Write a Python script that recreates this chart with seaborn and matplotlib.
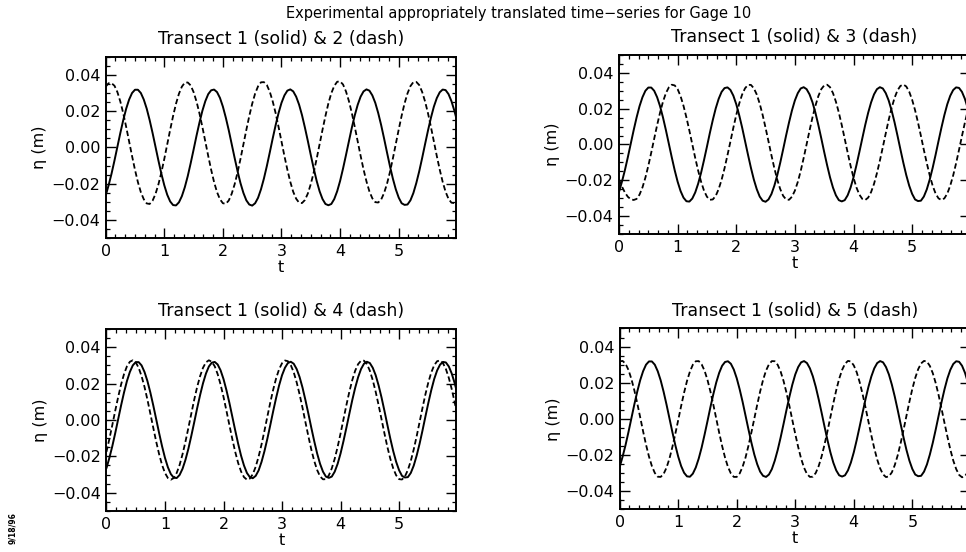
import numpy as np
import pandas as pd
import seaborn as sns
import matplotlib
matplotlib.use("Agg")
import matplotlib.pyplot as plt
from matplotlib.ticker import MultipleLocator, FuncFormatter

# ---------------- data ----------------
t = [0.00, 0.05, 0.10, 0.15, 0.20, 0.25, 0.30, 0.35, 0.40, 0.45,
     0.50, 0.55, 0.60, 0.65, 0.70, 0.75, 0.80, 0.85, 0.90, 0.95,
     1.00, 1.05, 1.10, 1.15, 1.20, 1.25, 1.30, 1.35, 1.40, 1.45,
     1.50, 1.55, 1.60, 1.65, 1.70, 1.75, 1.80, 1.85, 1.90, 1.95,
     2.00, 2.05, 2.10, 2.15, 2.20, 2.25, 2.30, 2.35, 2.40, 2.45,
     2.50, 2.55, 2.60, 2.65, 2.70, 2.75, 2.80, 2.85, 2.90, 2.95,
     3.00, 3.05, 3.10, 3.15, 3.20, 3.25, 3.30, 3.35, 3.40, 3.45,
     3.50, 3.55, 3.60, 3.65, 3.70, 3.75, 3.80, 3.85, 3.90, 3.95,
     4.00, 4.05, 4.10, 4.15, 4.20, 4.25, 4.30, 4.35, 4.40, 4.45,
     4.50, 4.55, 4.60, 4.65, 4.70, 4.75, 4.80, 4.85, 4.90, 4.95,
     5.00, 5.05, 5.10, 5.15, 5.20, 5.25, 5.30, 5.35, 5.40, 5.45,
     5.50, 5.55, 5.60, 5.65, 5.70, 5.75, 5.80, 5.85, 5.90, 5.95,
     5.98]

transect1 = [-0.0265, -0.0208, -0.0144, -0.0072, 0.0004, 0.0080, 0.0151, 0.0214, 0.0264, 0.0300,
             0.0318, 0.0318, 0.0300, 0.0264, 0.0214, 0.0151, 0.0080, 0.0004, -0.0072, -0.0144,
             -0.0208, -0.0260, -0.0297, -0.0317, -0.0319, -0.0302, -0.0268, -0.0219, -0.0158, -0.0087,
             -0.0012, 0.0065, 0.0137, 0.0202, 0.0255, 0.0294, 0.0315, 0.0319, 0.0305, 0.0273,
             0.0225, 0.0164, 0.0095, 0.0019, -0.0057, -0.0130, -0.0196, -0.0250, -0.0291, -0.0314,
             -0.0320, -0.0307, -0.0277, -0.0230, -0.0171, -0.0102, -0.0027, 0.0050, 0.0123, 0.0190,
             0.0246, 0.0287, 0.0313, 0.0320, 0.0309, 0.0280, 0.0236, 0.0178, 0.0109, 0.0035,
             -0.0042, -0.0116, -0.0184, -0.0241, -0.0284, -0.0311, -0.0318, -0.0311, -0.0284, -0.0241,
             -0.0184, -0.0116, -0.0042, 0.0034, 0.0109, 0.0177, 0.0235, 0.0280, 0.0309, 0.0320,
             0.0313, 0.0287, 0.0246, 0.0190, 0.0124, 0.0050, -0.0027, -0.0102, -0.0171, -0.0230,
             -0.0276, -0.0307, -0.0316, -0.0314, -0.0291, -0.0251, -0.0196, -0.0131, -0.0058, 0.0019,
             0.0094, 0.0164, 0.0225, 0.0272, 0.0304, 0.0319, 0.0316, 0.0294, 0.0255, 0.0202,
             0.0165]

transect2 = [0.0335, 0.0354, 0.0354, 0.0340, 0.0305, 0.0253, 0.0188, 0.0113, 0.0033, -0.0047,
             -0.0123, -0.0191, -0.0246, -0.0285, -0.0308, -0.0311, -0.0293, -0.0256, -0.0203, -0.0138,
             -0.0063, 0.0017, 0.0097, 0.0173, 0.0241, 0.0296,
             0.0335, 0.0357, 0.0358, 0.0342, 0.0305, 0.0253, 0.0188, 0.0113, 0.0033, -0.0047,
             -0.0123, -0.0191, -0.0246, -0.0285, -0.0307, -0.0310, -0.0292, -0.0255, -0.0203, -0.0138,
             -0.0063, 0.0017, 0.0097, 0.0173, 0.0241, 0.0297,
             0.0337, 0.0359, 0.0360, 0.0344, 0.0307, 0.0254, 0.0189, 0.0113, 0.0033, -0.0047,
             -0.0122, -0.0189, -0.0244, -0.0282, -0.0304, -0.0306, -0.0289, -0.0253, -0.0201, -0.0137,
             -0.0062, 0.0018, 0.0098, 0.0174, 0.0243, 0.0299,
             0.0339, 0.0362, 0.0364, 0.0347, 0.0309, 0.0256, 0.0190, 0.0114, 0.0034, -0.0046,
             -0.0121, -0.0187, -0.0242, -0.0280, -0.0301, -0.0303, -0.0287, -0.0251, -0.0200, -0.0136,
             -0.0061, 0.0019, 0.0099, 0.0175, 0.0243, 0.0298,
             0.0338, 0.0360, 0.0361, 0.0344, 0.0306, 0.0253, 0.0188, 0.0113, 0.0033, -0.0047,
             -0.0122, -0.0189, -0.0244, -0.0283, -0.0304, -0.0306,
             -0.0302]

transect3 = [-0.0195, -0.0235, -0.0268, -0.0292, -0.0306, -0.0310, -0.0304, -0.0280, -0.0240, -0.0185,
             -0.0119, -0.0045, 0.0032, 0.0108, 0.0178, 0.0239, 0.0287, 0.0319, 0.0334, 0.0330,
             0.0309, 0.0270, 0.0216, 0.0151, 0.0078, 0.0001, -0.0075, -0.0146, -0.0208, -0.0258,
             -0.0292, -0.0309, -0.0307, -0.0287, -0.0249, -0.0197, -0.0133, -0.0060, 0.0016, 0.0093,
             0.0165, 0.0228, 0.0279, 0.0314, 0.0333, 0.0333, 0.0314, 0.0279, 0.0228, 0.0165,
             0.0093, 0.0017, -0.0060, -0.0133, -0.0197, -0.0249, -0.0287, -0.0307, -0.0309, -0.0292,
             -0.0258, -0.0209, -0.0147, -0.0075, 0.0001, 0.0078, 0.0151, 0.0216, 0.0270, 0.0309,
             0.0330, 0.0334, 0.0320, 0.0287, 0.0239, 0.0178, 0.0108, 0.0032, -0.0045, -0.0119,
             -0.0185, -0.0240, -0.0280, -0.0304, -0.0310, -0.0297, -0.0266, -0.0220, -0.0160, -0.0090,
             -0.0015, 0.0062, 0.0137, 0.0204, 0.0260, 0.0302, 0.0327, 0.0335, 0.0324, 0.0295,
             0.0250, 0.0192, 0.0123, 0.0048, -0.0030, -0.0104, -0.0172, -0.0230, -0.0274, -0.0301,
             -0.0310, -0.0301, -0.0274, -0.0230, -0.0173, -0.0105, -0.0030, 0.0047, 0.0122, 0.0191,
             0.0228]

transect4 = [-0.0175, -0.0104, -0.0028, 0.0051, 0.0126, 0.0195, 0.0252, 0.0295, 0.0320, 0.0328,
             0.0317, 0.0287, 0.0241, 0.0182, 0.0112, 0.0035, -0.0043, -0.0119, -0.0188, -0.0247,
             -0.0291, -0.0319, -0.0328, -0.0319, -0.0291, -0.0247, -0.0188, -0.0119, -0.0043, 0.0035,
             0.0112, 0.0182, 0.0241, 0.0287, 0.0317, 0.0328, 0.0320, 0.0295, 0.0252, 0.0195,
             0.0127, 0.0051, -0.0027, -0.0104, -0.0175, -0.0236, -0.0283, -0.0314, -0.0328, -0.0322,
             -0.0298, -0.0257, -0.0201, -0.0134, -0.0059, 0.0020, 0.0097, 0.0168, 0.0230, 0.0279,
             0.0312, 0.0327, 0.0323, 0.0301, 0.0262, 0.0207, 0.0141, 0.0067, -0.0012, -0.0089,
             -0.0162, -0.0225, -0.0275, -0.0310, -0.0326, -0.0325, -0.0304, -0.0266, -0.0213, -0.0148,
             -0.0074, 0.0004, 0.0082, 0.0155, 0.0219, 0.0271, 0.0307, 0.0326, 0.0326, 0.0307,
             0.0271, 0.0219, 0.0155, 0.0082, 0.0004, -0.0074, -0.0148, -0.0213, -0.0266, -0.0304,
             -0.0325, -0.0327, -0.0310, -0.0275, -0.0225, -0.0162, -0.0090, -0.0012, 0.0066, 0.0141,
             0.0207, 0.0261, 0.0301, 0.0323, 0.0327, 0.0312, 0.0280, 0.0231, 0.0169, 0.0097,
             0.0051]

transect5 = [0.0318, 0.0321, 0.0305, 0.0271, 0.0221, 0.0159, 0.0087, 0.0010, -0.0068, -0.0142,
             -0.0207, -0.0260, -0.0298, -0.0319, -0.0320, -0.0304, -0.0269, -0.0219, -0.0155, -0.0083,
             -0.0006, 0.0072, 0.0145, 0.0210, 0.0262, 0.0300, 0.0319, 0.0320, 0.0302, 0.0267,
             0.0216, 0.0152, 0.0079, 0.0002, -0.0076, -0.0149, -0.0213, -0.0265, -0.0301, -0.0320,
             -0.0320, -0.0301, -0.0264, -0.0213, -0.0148, -0.0075, 0.0002, 0.0079, 0.0152, 0.0216,
             0.0267, 0.0302, 0.0320, 0.0319, 0.0299, 0.0262, 0.0210, 0.0145, 0.0072, -0.0006,
             -0.0083, -0.0155, -0.0219, -0.0269, -0.0304, -0.0320, -0.0319, -0.0298, -0.0260, -0.0207,
             -0.0141, -0.0068, 0.0010, 0.0087, 0.0159, 0.0222, 0.0271, 0.0305, 0.0321, 0.0318,
             0.0296, 0.0258, 0.0204, 0.0138, 0.0064, -0.0014, -0.0091, -0.0162, -0.0224, -0.0273,
             -0.0306, -0.0321, -0.0317, -0.0295, -0.0255, -0.0201, -0.0134, -0.0060, 0.0018, 0.0095,
             0.0166, 0.0227, 0.0275, 0.0307, 0.0321, 0.0317, 0.0293, 0.0253, 0.0198, 0.0131,
             0.0056, -0.0022, -0.0098, -0.0169, -0.0230, -0.0277, -0.0309, -0.0322, -0.0316, -0.0292,
             -0.0269]

panel_titles = ["Transect 1 (solid) & 2 (dash)", "Transect 1 (solid) & 3 (dash)",
                "Transect 1 (solid) & 4 (dash)", "Transect 1 (solid) & 5 (dash)"]
dashed_series = [transect2, transect3, transect4, transect5]
suptitle = "Experimental appropriately translated time\u2212series for Gage 10"
xtick_vals = [0, 1, 2, 3, 4, 5]
ytick_vals = [-0.04, -0.02, 0.00, 0.02, 0.04]

# ---------------- style ----------------
sns.set_theme(style="ticks")
plt.rcParams["font.family"] = ["DejaVu Sans"]
plt.rcParams["axes.linewidth"] = 1.4
plt.rcParams["axes.edgecolor"] = "black"
plt.rcParams["text.color"] = "black"
plt.rcParams["axes.labelcolor"] = "black"
plt.rcParams["axes.titlecolor"] = "black"

fig = plt.figure(figsize=(9.66, 5.52), dpi=100)

positions = [
    [0.1094, 0.5683, 0.3628, 0.3290],
    [0.6408, 0.5761, 0.3629, 0.3243],
    [0.1102, 0.0743, 0.3623, 0.3297],
    [0.6415, 0.0770, 0.3623, 0.3279],
]


def fmt_y(v, pos):
    s = f"{v:.2f}"
    if s == "-0.00":
        s = "0.00"
    return s.replace("-", "\u2212")


for pos, title, dash in zip(positions, panel_titles, dashed_series):
    ax = fig.add_axes(pos)
    df = pd.DataFrame({"t": t, "solid": transect1, "dash": dash})
    sns.lineplot(data=df, x="t", y="solid", ax=ax, color="black", lw=1.4, sort=False)
    sns.lineplot(data=df, x="t", y="dash", ax=ax, color="black", lw=1.3,
                 linestyle=(0, (3.0, 1.6)), sort=False)
    ax.set_xlim(0, 5.98)
    ax.set_ylim(-0.05, 0.05)
    ax.set_xticks(xtick_vals)
    ax.set_yticks(ytick_vals)
    ax.xaxis.set_minor_locator(MultipleLocator(1 / 6))
    ax.yaxis.set_minor_locator(MultipleLocator(0.005))
    ax.yaxis.set_major_formatter(FuncFormatter(fmt_y))
    ax.tick_params(which="both", direction="in", top=True, right=True,
                   colors="black", labelcolor="black")
    ax.tick_params(which="major", length=7, width=1.0, labelsize=11.5)
    ax.tick_params(which="minor", length=3.2, width=0.9)
    ax.tick_params(axis="x", which="major", pad=4)
    ax.tick_params(axis="y", which="major", pad=4)
    ax.set_xlabel("t", fontsize=11.5, labelpad=1)
    ax.set_ylabel("\u03b7 (m)", fontsize=11.5)
    ax.yaxis.set_label_coords(-0.168, 0.5)
    ax.set_title(title, fontsize=12.5, pad=9)
    for s in ax.spines.values():
        s.set_visible(True)
        s.set_color("black")

fig.text(0.537, 1 - 18 / 552, suptitle, ha="center", va="baseline", fontsize=10.5)
fig.text(0.013, 1 - 512 / 552, "9/18/96", rotation=90, fontsize=5.5,
         fontweight="bold", ha="center", va="top")

fig.savefig("out.png", dpi=100)
